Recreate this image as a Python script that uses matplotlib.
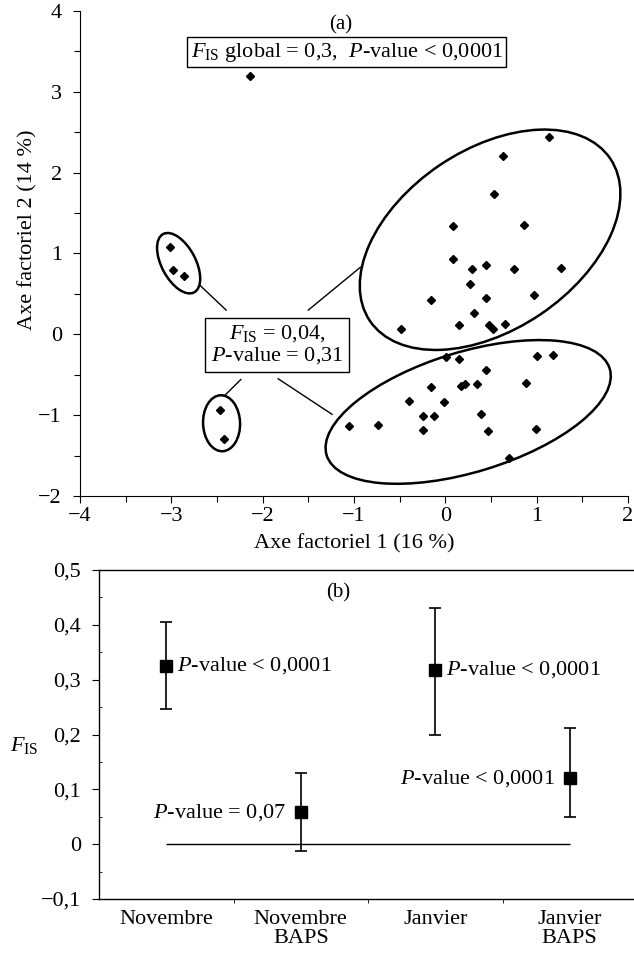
import matplotlib
matplotlib.use("Agg")
import matplotlib.pyplot as plt
from matplotlib.patches import Ellipse
from matplotlib.transforms import ScaledTranslation
import numpy as np

plt.rcParams['font.family'] = ['Liberation Serif', 'DejaVu Serif']
plt.rcParams['mathtext.fontset'] = 'custom'
plt.rcParams['mathtext.rm'] = 'Liberation Serif'
plt.rcParams['mathtext.it'] = 'Liberation Serif:italic'
plt.rcParams['axes.unicode_minus'] = True

# ---------------- Panel (a) data ----------------
axe1 = [1.14, 0.63, 0.53, 0.08, 0.86, 0.08, 0.29, 0.45, 0.75, 1.27, 0.27, -0.16, 0.45, 0.97,
        0.31, -0.48, 0.15, 0.48, 0.52, 0.65,
        0.01, 0.15, 1.00, 1.18, 0.45, -0.16, 0.17, 0.22, 0.35, 0.88, -0.40, -0.01, -0.24,
        -0.12, 0.39, -1.06, -0.74, -0.24, 0.47, 0.99, 0.70,
        -3.02, -2.98, -2.86, -2.47, -2.42, -2.14]
axe2 = [2.44, 2.20, 1.74, 1.34, 1.35, 0.93, 0.81, 0.86, 0.81, 0.82, 0.62, 0.42, 0.45, 0.49,
        0.27, 0.07, 0.11, 0.12, 0.07, 0.13,
        -0.28, -0.30, -0.27, -0.25, -0.44, -0.65, -0.64, -0.61, -0.62, -0.60, -0.82, -0.84, -1.01,
        -1.01, -0.98, -1.13, -1.12, -1.18, -1.19, -1.17, -1.53,
        1.08, 0.80, 0.72, -0.94, -1.30, 3.19]

# groups: centre (data), semi-axes (px), angle (deg)
group_centres = [(0.49, 1.17), (0.25, -0.96), (-2.92, 0.88), (-2.45, -1.10)]
group_axes_px = [(145, 90), (148, 60), (33, 17), (28, 18.5)]
group_angles = [34, 17, 118, 92]

connectors = [((-2.69, 0.61), (-2.40, 0.30)),
              ((-0.93, 0.83), (-1.50, 0.30)),
              ((-2.41, -0.75), (-2.24, -0.56)),
              ((-1.24, -0.99), (-1.83, -0.55))]

# ---------------- Panel (b) data ----------------
categories = ["Novembre", "Novembre\nBAPS", "Janvier", "Janvier\nBAPS"]
fis = [0.325, 0.058, 0.318, 0.120]
fis_low = [0.246, -0.013, 0.200, 0.049]
fis_high = [0.406, 0.129, 0.431, 0.212]
pvals = ["$P$-value < 0,0001", "$P$-value = 0,07", "$P$-value < 0,0001", "$P$-value < 0,0001"]

W, H = 634, 955
fig = plt.figure(figsize=(W/100, H/100), dpi=100)

# ---------- (a) ----------
ax = fig.add_axes([80/W, 1-496/H, (628-80)/W, (496-11)/H])
ax.set_xlim(-4, 2)
ax.set_ylim(-2, 4)
for s in ['top', 'right']:
    ax.spines[s].set_visible(False)
ax.spines['left'].set_linewidth(0.8)
ax.spines['bottom'].set_linewidth(0.8)
ax.set_xticks(np.arange(-4, 2.01, 1))
ax.set_xticks(np.arange(-4, 2.01, 0.5), minor=True)
ax.set_yticks(np.arange(-2, 4.01, 1))
ax.set_yticks(np.arange(-2, 4.01, 0.5), minor=True)
ax.set_xticklabels(["\u22124", "\u22123", "\u22122", "\u22121", "0", "1", "2"])
ax.set_yticklabels(["\u22122", "\u22121", "0", "1", "2", "3", "4"])
ax.tick_params(axis='both', which='major', length=5, width=0.8, labelsize=16, direction='out')
ax.tick_params(axis='y', which='major', pad=8)
ax.tick_params(axis='x', which='major', pad=3)
ax.tick_params(axis='both', which='minor', length=4, width=0.8, direction='out')
ax.set_xlabel("Axe factoriel 1 (16 %)", fontsize=16, labelpad=6)
ax.set_ylabel("Axe factoriel 2 (14 %)", fontsize=16)
ax.yaxis.set_label_coords(-0.078, 0.55)

ax.plot(axe1, axe2, linestyle='none', marker='D', color='black', markersize=4.5)

for (cx, cy), (a, b), ang in zip(group_centres, group_axes_px, group_angles):
    tr = fig.dpi_scale_trans + ScaledTranslation(cx, cy, ax.transData)
    e = Ellipse((0, 0), 2*a/100, 2*b/100, angle=ang, transform=tr,
                fill=False, edgecolor='black', linewidth=1.8)
    ax.add_patch(e)

for (p0, p1) in connectors:
    ax.plot([p0[0], p1[0]], [p0[1], p1[1]], color='black', linewidth=1.0)

ax.text(-1.08, 3.49, "$F_{\\rm IS}$ global = 0,3,  $P$-value < 0,0001", fontsize=16,
        ha='center', va='center',
        bbox=dict(boxstyle='square,pad=0.15', fc='white', ec='black', lw=1.0))
ax.text(-1.84, -0.13, "$F_{\\rm IS}$ = 0,04,\n$P$-value = 0,31", fontsize=16,
        ha='center', va='center', linespacing=1.05,
        bbox=dict(boxstyle='square,pad=0.25', fc='white', ec='black', lw=1.0))
ax.text(-1.15, 3.83, "(a)", fontsize=15, ha='center', va='center')

# ---------- (b) ----------
bx = fig.add_axes([99/W, 1-899/H, (637-99)/W, (899-570)/H])
xpos = np.arange(1, len(categories)+1)
bx.set_xlim(0.5, 4.5)
bx.set_ylim(-0.1, 0.5)
bx.spines['right'].set_visible(False)
for s in ['top', 'left', 'bottom']:
    bx.spines[s].set_linewidth(1.0)
bx.set_yticks(np.arange(-0.1, 0.51, 0.1))
bx.set_yticks(np.arange(-0.1, 0.51, 0.05), minor=True)
bx.set_yticklabels(["\u22120,1", "0", "0,1", "0,2", "0,3", "0,4", "0,5"])
bx.set_xticks(xpos)
bx.set_xticklabels(categories, fontsize=16, linespacing=1.0)
bx.set_xticks([1.5, 2.5, 3.5], minor=True)
bx.tick_params(axis='x', which='major', length=0, pad=8)
bx.tick_params(axis='x', which='minor', length=3, direction='out')
bx.tick_params(axis='y', which='major', length=5, labelsize=16, direction='out', pad=8)
bx.tick_params(axis='y', which='minor', length=2, direction='in')

bx.hlines(0, xpos[0], xpos[-1], color='black', linewidth=1.0)
err = [np.array(fis) - np.array(fis_low), np.array(fis_high) - np.array(fis)]
bx.errorbar(xpos, fis, yerr=err, fmt='s', color='black', markersize=8,
            capsize=4, elinewidth=1.2, capthick=1.2)

offs = [0.08, -0.11, 0.08, -0.11]
has = ['left', 'right', 'left', 'right']
for x, y, t, o, h in zip(xpos, fis, pvals, offs, has):
    bx.text(x + o, y, t, fontsize=16, ha=h, va='center')

bx.text(2.28, 0.458, "(b)", fontsize=15, ha='center', va='center')
bx.set_ylabel("$F_{\\rm IS}$", fontsize=16, rotation=0, va='center', ha='center')
bx.yaxis.set_label_coords(-0.138, 0.468)

fig.savefig("out.png", dpi=100)
